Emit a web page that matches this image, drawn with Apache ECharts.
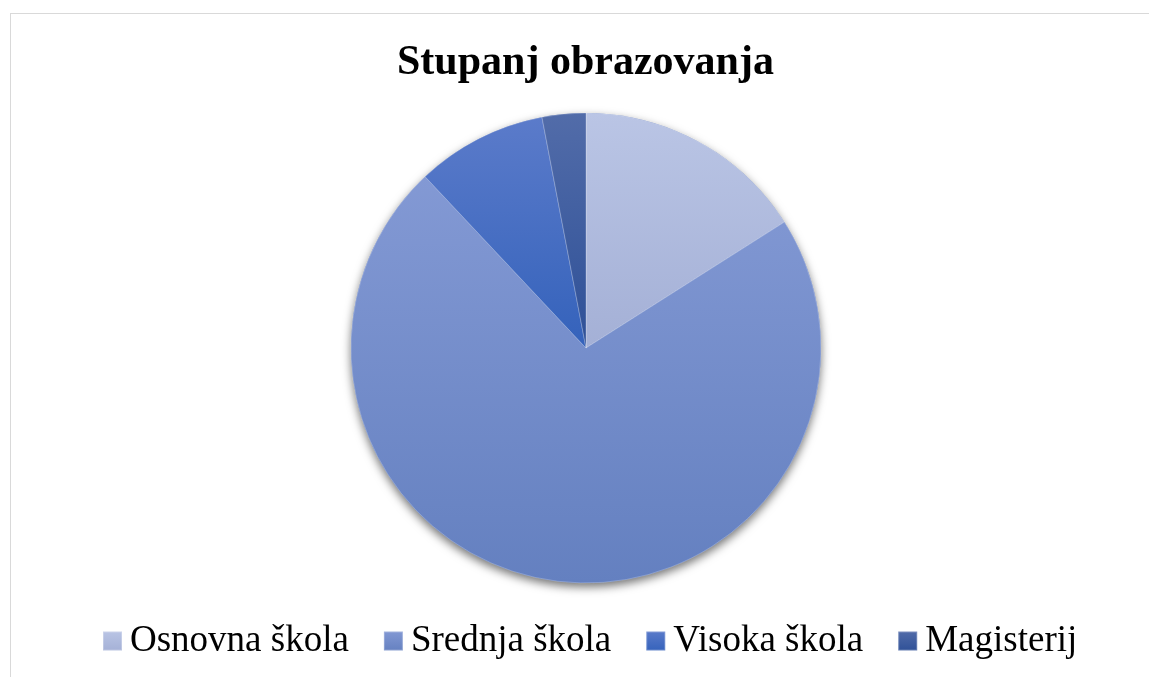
<!DOCTYPE html>
<html>
<head>
<meta charset="utf-8">
<script src="https://cdn.jsdelivr.net/npm/echarts@6/dist/echarts.min.js"></script>
<style>
    html, body { margin: 0; padding: 0; background: #fff; }
    #frame {
        position: absolute; left: 10px; top: 13px; width: 1200px; height: 700px;
        border-top: 1px solid #d9d9d9; border-left: 1px solid #d9d9d9;
    }
    #box { position: absolute; left: 0; top: 0; width: 1149px; height: 677px; }
</style>
</head>
<body>
<div id="frame"></div>
<div id="box"></div>
<script>
var categories = ['Osnovna škola', 'Srednja škola', 'Visoka škola', 'Magisterij'];
var values = [16, 72, 9, 3];
var colorsTop = ['#bac5e5', '#8399d4', '#5b7bca', '#526ca9'];
var colorsBottom = ['#a4b0d6', '#6480c0', '#3462bb', '#2e5097'];

function initChart() {
    var dom = document.getElementById('box');
    var myChart = echarts.init(dom);
    var option = null;
    var pieData = [];

    categories.forEach((name, i) => {
        pieData.push({
            name: name,
            value: values[i],
            itemStyle: {
                color: new echarts.graphic.LinearGradient(0, 0, 0, 1, [
                    { offset: 0, color: colorsTop[i] },
                    { offset: 1, color: colorsBottom[i] }
                ])
            }
        });
    });

    option = {
        backgroundColor: 'transparent',
        title: {
            text: 'Stupanj obrazovanja',
            left: 392,
            top: 35,
            textStyle: {
                fontFamily: 'Liberation Serif',
                fontWeight: 'bold',
                fontSize: 42,
                lineHeight: 46,
                color: '#000'
            }
        },
        legend: {
            data: categories,
            left: 97,
            top: 616,
            icon: 'rect',
            itemWidth: 19,
            itemHeight: 19,
            itemGap: 34,
            textStyle: {
                fontFamily: 'Liberation Serif',
                fontSize: 37,
                lineHeight: 40,
                color: '#000',
                padding: [0, 0, 0, 3]
            }
        },
        series: [
            {
                // shadow disc under the slices
                type: 'pie',
                silent: true,
                center: [586, 348],
                radius: 235,
                label: { show: false },
                labelLine: { show: false },
                itemStyle: {
                    color: '#6580c0',
                    shadowBlur: 10,
                    shadowOffsetY: 4,
                    shadowColor: 'rgba(0,0,0,0.55)'
                },
                data: [{ name: '', value: 1 }],
                legendHoverLink: false
            },
            {
                name: 'Stupanj obrazovanja',
                type: 'pie',
                center: [586, 348],
                radius: 235,
                startAngle: 90,
                clockwise: true,
                label: { show: false },
                labelLine: { show: false },
                itemStyle: {
                    borderWidth: 0.5,
                    borderColor: 'rgba(255,255,255,0.25)'
                },
                data: pieData
            }
        ]
    };

    if (option && typeof option === 'object') {
        myChart.setOption(option, true);
    }
}

initChart();
</script>
</body>
</html>
